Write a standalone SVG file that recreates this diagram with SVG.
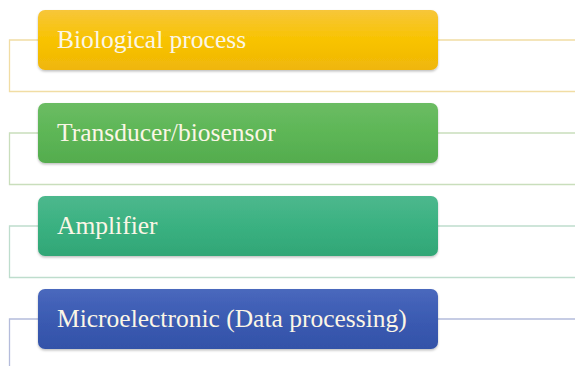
<svg xmlns="http://www.w3.org/2000/svg" width="575" height="366" viewBox="0 0 575 366">
<style>
.lbl{font-family:"Liberation Serif","Times New Roman",serif;font-size:25.5px;fill:#FBF6E6}
.ln{fill:none;stroke-width:1.3}
.box{filter:url(#sh)}
</style>
<defs>
<filter id="sh" x="-5%" y="-10%" width="110%" height="130%">
<feDropShadow dx="0" dy="1.5" stdDeviation="1.2" flood-color="#000" flood-opacity="0.25"/>
</filter>
<linearGradient id="g1" x1="0" y1="0" x2="0" y2="1"><stop offset="0" stop-color="#F7C63A"/><stop offset="0.5" stop-color="#F8C300"/><stop offset="1" stop-color="#EFB60A"/></linearGradient>
<linearGradient id="g2" x1="0" y1="0" x2="0" y2="1"><stop offset="0" stop-color="#6BBC63"/><stop offset="0.5" stop-color="#5DB656"/><stop offset="1" stop-color="#54AC4E"/></linearGradient>
<linearGradient id="g3" x1="0" y1="0" x2="0" y2="1"><stop offset="0" stop-color="#4DB88D"/><stop offset="0.5" stop-color="#3AB181"/><stop offset="1" stop-color="#31A676"/></linearGradient>
<linearGradient id="g4" x1="0" y1="0" x2="0" y2="1"><stop offset="0" stop-color="#4A68BD"/><stop offset="0.5" stop-color="#3B5BB2"/><stop offset="1" stop-color="#3352A8"/></linearGradient>
</defs>
<g id="connectors">
<path class="ln" stroke="#F1DDA4" d="M38 40H9.5V91.5H575M438 40H575"/>
<path class="ln" stroke="#C9DEBC" d="M38 133H9.5V184.5H575M438 133H575"/>
<path class="ln" stroke="#BEDDCD" d="M38 226H9.5V277.5H575M438 226H575"/>
<path class="ln" stroke="#B4BCDB" d="M38 319H9.5V366M438 319H575"/>
</g>
<g id="n1"><rect class="box" x="38" y="10" width="400" height="60" rx="7" fill="url(#g1)"/><text class="lbl" x="57" y="48">Biological process</text></g>
<g id="n2"><rect class="box" x="38" y="103" width="400" height="60" rx="7" fill="url(#g2)"/><text class="lbl" x="57" y="141">Transducer/biosensor</text></g>
<g id="n3"><rect class="box" x="38" y="196" width="400" height="60" rx="7" fill="url(#g3)"/><text class="lbl" x="57" y="234">Amplifier</text></g>
<g id="n4"><rect class="box" x="38" y="289" width="400" height="60" rx="7" fill="url(#g4)"/><text class="lbl" x="57" y="327">Microelectronic (Data processing)</text></g>
</svg>
